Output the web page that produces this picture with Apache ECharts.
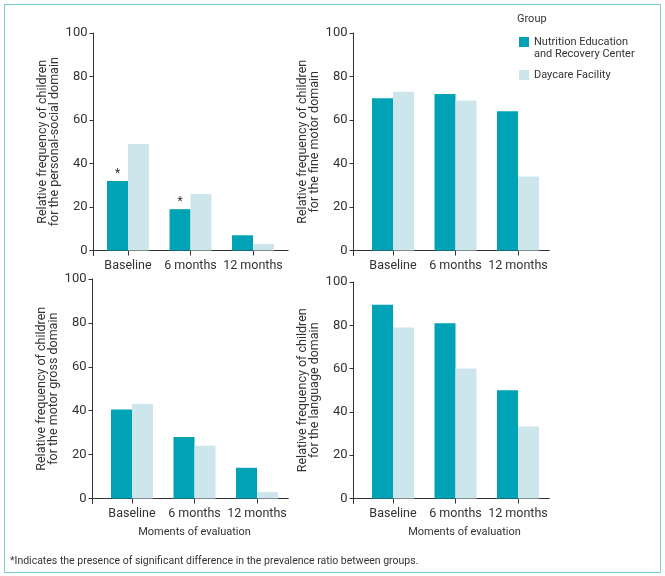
<!DOCTYPE html>
<html>
<head>
<meta charset="utf-8">
<script src="https://cdn.jsdelivr.net/npm/echarts@6/dist/echarts.min.js"></script>
<style>
html,body{margin:0;padding:0;background:#fff;}
#wrap{position:relative;width:665px;height:576px;}
#chart{width:665px;height:576px;}
#frame{position:absolute;left:4px;top:4px;width:655px;height:567px;border:1.5px solid #7dcdd2;pointer-events:none;}
</style>
</head>
<body>
<div id="wrap"><div id="chart"></div><div id="frame"></div></div>
<script>
const categories = ['Baseline', '6 months', '12 months'];
const groupNames = ['Nutrition Education and Recovery Center', 'Daycare Facility'];
const yTicks = [0, 20, 40, 60, 80, 100];

const personalSocialNERC = [32, 19, 7];
const personalSocialDaycare = [49, 26, 3];
const personalSocialSignificant = [true, true, false];

const fineMotorNERC = [70, 72, 64];
const fineMotorDaycare = [73, 69, 34];

const grossMotorNERC = [40.5, 28, 14];
const grossMotorDaycare = [43, 24, 3];

const languageNERC = [89.5, 81, 50];
const languageDaycare = [79, 60, 33.3];

const panelTitles = [
  'Relative frequency of children\nfor the personal-social domain',
  'Relative frequency of children\nfor the fine motor domain',
  'Relative frequency of children\nfor the motor gross domain',
  'Relative frequency of children\nfor the language domain'
];
const xAxisTitle = 'Moments of evaluation';
const footnote = '*Indicates the presence of significant difference in the prevalence ratio between groups.';

const TEAL = '#00a3b5';
const LIGHT = '#cde6ec';
const AXIS = '#333';
const FONT = 'Roboto, "Liberation Sans", sans-serif';

// axisX: where the y axis line sits; axisEnd: right end of the x axis line
const layout = [
  {left: 96.75, top: 33, height: 217.5, axisX: 93.5, axisEnd: 288},
  {left: 361.75, top: 33, height: 217.5, axisX: 353.5, axisEnd: 548},
  {left: 100.75, top: 279, height: 219.5, axisX: 92.5, axisEnd: 288},
  {left: 361.75, top: 282, height: 216.5, axisX: 353.5, axisEnd: 549}
];
const BAND_W = 187.5;

const panels = [
  {a: personalSocialNERC, b: personalSocialDaycare, sig: personalSocialSignificant},
  {a: fineMotorNERC, b: fineMotorDaycare, sig: null},
  {a: grossMotorNERC, b: grossMotorDaycare, sig: null},
  {a: languageNERC, b: languageDaycare, sig: null}
];

const grids = [], xAxes = [], yAxes = [], series = [];
panels.forEach((p, i) => {
  const L = layout[i];
  const bottomRow = i >= 2;
  grids.push({left: L.left, top: L.top, width: BAND_W, height: L.height});
  const startExt = L.left - L.axisX;
  const endExt = Math.max(0, L.axisEnd - (L.left + BAND_W));
  const ext = Math.max(startExt, endExt);
  xAxes.push({
    type: 'category', gridIndex: i, data: categories,
    axisLine: {
      show: true, lineStyle: {color: AXIS, width: 1},
      symbol: [startExt > 0 ? 'rect' : 'none', endExt > 0 ? 'rect' : 'none'],
      symbolSize: [1, ext + 1],
      symbolOffset: [-ext / 2, ext / 2]
    },
    axisTick: {show: true, alignWithLabel: true, length: 5, lineStyle: {color: AXIS}},
    axisLabel: {color: '#333', fontFamily: FONT, fontSize: 12.5, margin: 9, interval: 0, hideOverlap: false},
    name: bottomRow ? xAxisTitle : '',
    nameLocation: 'middle', nameGap: 28,
    nameTextStyle: {color: '#333', fontFamily: FONT, fontSize: 11,
      padding: i === 2 ? [0, 0, 0, 0] : [0, 0, 0, 18]}
  });
  yAxes.push({
    type: 'value', gridIndex: i, min: 0, max: 100, interval: 20,
    offset: startExt,
    splitLine: {show: false},
    axisLine: {
      show: true, lineStyle: {color: AXIS, width: 1},
      symbol: ['rect', 'none'], symbolSize: [1, 6], symbolOffset: [-2.5, 0]
    },
    axisTick: {show: true, length: 4, lineStyle: {color: AXIS}},
    axisLabel: {color: '#333', fontFamily: FONT, fontSize: 13, margin: 6},
    name: panelTitles[i], nameLocation: 'middle', nameGap: 30, nameRotate: 90,
    nameTextStyle: {color: '#333', fontFamily: FONT, fontSize: 12.5, lineHeight: 12}
  });
  series.push({
    type: 'bar', name: groupNames[0], xAxisIndex: i, yAxisIndex: i,
    barWidth: 21, barGap: 0, itemStyle: {color: TEAL},
    data: p.a.map((v, k) => (p.sig && p.sig[k]) ? {
      value: v,
      label: {show: true, position: 'top', formatter: '*', distance: 1, color: '#333', fontSize: 12, fontFamily: FONT}
    } : v)
  });
  series.push({
    type: 'bar', name: groupNames[1], xAxisIndex: i, yAxisIndex: i,
    barWidth: 21, barGap: 0, itemStyle: {color: LIGHT},
    data: p.b
  });
});

const chart = echarts.init(document.getElementById('chart'), null, {renderer: 'canvas'});
chart.setOption({
  animation: false,
  backgroundColor: '#fff',
  grid: grids,
  xAxis: xAxes,
  yAxis: yAxes,
  series: series,
  legend: {
    orient: 'vertical', left: 519, top: 35, padding: 0,
    itemWidth: 10, itemHeight: 10, itemGap: 19,
    icon: 'rect',
    data: groupNames,
    formatter: function (n) { return n === groupNames[0] ? 'Nutrition Education' : n; },
    textStyle: {color: '#333', fontFamily: FONT, fontSize: 11, lineHeight: 14}
  },
  title: [
    {text: 'Group', left: 517, top: 14, padding: 0, textStyle: {color: '#333', fontFamily: FONT, fontWeight: 'normal', fontSize: 11}},
    {text: 'and Recovery Center', left: 534, top: 49, padding: 0, textStyle: {color: '#333', fontFamily: FONT, fontWeight: 'normal', fontSize: 11}},
    {text: footnote, left: 10, top: 556, padding: 0, textStyle: {color: '#333', fontFamily: FONT, fontWeight: 'normal', fontSize: 10.5}}
  ]
});
</script>
</body>
</html>
